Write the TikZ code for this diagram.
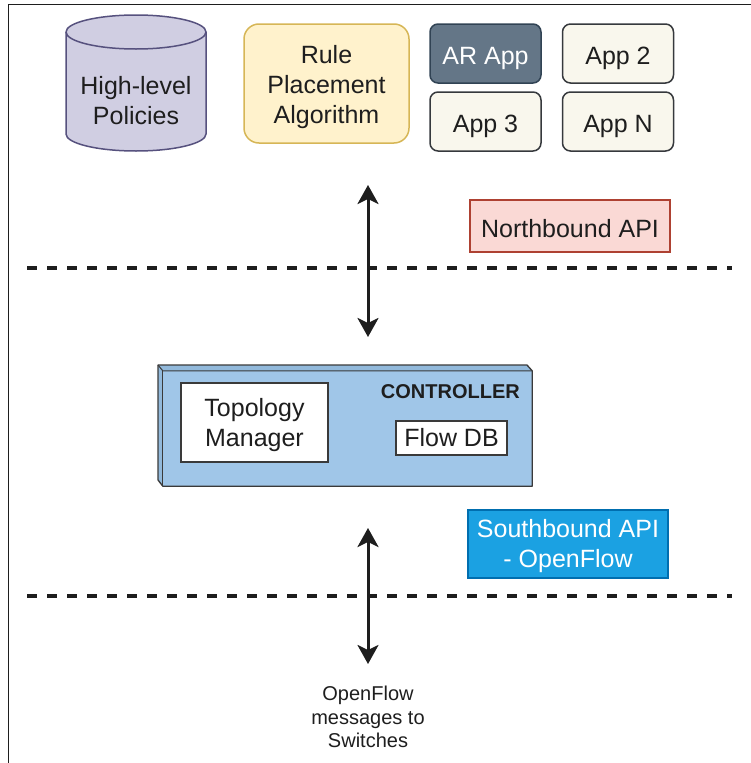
\documentclass[tikz,border=0pt]{standalone}
\usepackage{fontspec}
\setmainfont{Liberation Sans}
\usetikzlibrary{arrows.meta}

\definecolor{ink}{HTML}{1E1E1E}
\definecolor{polfill}{HTML}{D0CEE2}
\definecolor{polline}{HTML}{56517E}
\definecolor{rulefill}{HTML}{FFF2CC}
\definecolor{ruleline}{HTML}{D6B656}
\definecolor{arfill}{HTML}{647687}
\definecolor{arline}{HTML}{314354}
\definecolor{appfill}{HTML}{F9F7ED}
\definecolor{appline}{HTML}{36393D}
\definecolor{nbfill}{HTML}{FAD9D5}
\definecolor{nbline}{HTML}{AE4132}
\definecolor{sbfill}{HTML}{1BA1E2}
\definecolor{sbline}{HTML}{006EAF}
\definecolor{ctrlfill}{HTML}{A0C6E8}
\definecolor{ctrlside}{HTML}{92B9DB}
\definecolor{ctrlline}{HTML}{3A3A3A}

% invisible strut on the first text line: moves a centred text block down by #1
\newcommand\txtdrop[1]{\rule{0pt}{\dimexpr 18.5pt+#1*2\relax}}

\begin{document}
\begin{tikzpicture}[x=1pt,y=-1pt,
  bigtext/.style={font=\fontsize{25}{30}\selectfont},
  box/.style={draw, line width=1.5pt, inner sep=0pt, align=center, bigtext, text=ink},
  appbox/.style={box, rounded corners=8pt, minimum width=111pt, minimum height=59pt,
                 fill=appfill, draw=appline},
  apibox/.style={box, minimum width=200pt},
  innerbox/.style={box, fill=white, draw=ctrlline, line width=1.3pt},
  layerline/.style={line width=3.5pt, dash pattern=on 10pt off 10pt, draw=ink},
  link/.style={line width=3pt, draw=ink,
               {Stealth[length=19pt,width=21pt,inset=5pt]}-{Stealth[length=19pt,width=21pt,inset=5pt]}}
]
\useasboundingbox (0,0) rectangle (751,763);

% page frame (top and left edges)
\coordinate (frameBL) at (8.5,763);
\coordinate (frameTR) at (751,4.5);
\draw[line width=1.6pt, ink] (frameBL) |- (frameTR);

% policy store drawn as a cylinder
\fill[polfill] (66,32) -- (66,134) arc[start angle=180,end angle=0,x radius=70,y radius=17]
   -- (206,32) arc[start angle=360,end angle=180,x radius=70,y radius=17] -- cycle;
\draw[polline, line width=1.5pt] (66,32) -- (66,134) arc[start angle=180,end angle=0,x radius=70,y radius=17]
   -- (206,32) arc[start angle=360,end angle=180,x radius=70,y radius=17];
\draw[polline, line width=1.5pt] (66,32) arc[start angle=180,end angle=0,x radius=70,y radius=17];
\node (pol) [align=center, bigtext, text=ink, inner sep=0pt] at (136,99) {\txtdrop{1pt}High-level\\Policies};

% rule placement algorithm
\node (rpa) [box, rounded corners=15pt, fill=rulefill, draw=ruleline,
  minimum width=165pt, minimum height=119pt] at (326.5,83.5) {\txtdrop{3.5pt}Rule\\Placement\\Algorithm};

% applications
\node (ar)   [appbox, fill=arfill, draw=arline, text=white] at (485.5,53.5) {\txtdrop{4.5pt}AR App};
\node (app2) [appbox] at (618,53.5) {\txtdrop{4.5pt}App 2};
\node (app3) [appbox] at (485.5,121.5) {\txtdrop{4.5pt}App 3};
\node (appn) [appbox] at (618,121.5) {\txtdrop{4.5pt}App N};

% northbound interface
\node (nb) [apibox, fill=nbfill, draw=nbline, minimum height=52pt] at (570,226) {\txtdrop{2.5pt}Northbound API};

% layer separators
\coordinate (sep1a) at (27,268);
\coordinate (sep1b) at (732,268);
\coordinate (sep2a) at (27,596);
\coordinate (sep2b) at (732,596);
\draw[layerline] (sep1a) -- (sep1b);
\draw[layerline] (sep2a) -- (sep2b);

% controller block (box with depth on top and left)
\node (ctrl) [minimum width=369pt, minimum height=115pt, inner sep=0pt] at (347.5,428.5) {};
\fill[ctrlfill] (158,365) -- (527,365) -- (ctrl.north east) -- (ctrl.south east)
   -- (ctrl.south west) -- (158,480) -- cycle;
\fill[ctrlside] (158,365) -- (527,365) -- (ctrl.north east) -- (ctrl.north west) -- cycle;
\fill[ctrlside] (158,365) -- (ctrl.north west) -- (ctrl.south west) -- (158,480) -- cycle;
\draw[ctrlline, line width=1.3pt, line join=round] (158,365) -- (527,365) -- (ctrl.north east)
   -- (ctrl.south east) -- (ctrl.south west) -- (158,480) -- cycle;
\draw[ctrlline, line width=1pt] (158,365) -- (ctrl.north west) -- (ctrl.north east);
\draw[ctrlline, line width=1pt] (ctrl.north west) -- (ctrl.south west);
\node (ctrltitle) [anchor=east, inner sep=0pt, text=ink, font=\fontsize{20}{24}\selectfont\bfseries] at (520,392) {CONTROLLER};
\node (topo) [innerbox, minimum width=147pt, minimum height=79pt] at (254.5,422.5) {\txtdrop{2pt}Topology\\Manager};
\node (flowdb) [innerbox, minimum width=111pt, minimum height=34pt] at (451.5,438) {Flow DB};

% southbound interface
\node (sb) [apibox, fill=sbfill, draw=sbline, text=white, minimum height=68pt] at (568,544) {\txtdrop{2pt}Southbound API\\- OpenFlow};

% message exchange arrows
\coordinate (nTop) at (368,185);
\coordinate (nBot) at (368,337);
\coordinate (sTop) at (368,528);
\coordinate (sBot) at (368,664);
\draw[link] (nTop) -- (nBot);
\draw[link] (sTop) -- (sBot);

\node (msgs) [align=center, text=ink, inner sep=0pt, font=\fontsize{20}{23.5}\selectfont] at (368,717)
  {OpenFlow\\messages to\\Switches};
\end{tikzpicture}
\end{document}
